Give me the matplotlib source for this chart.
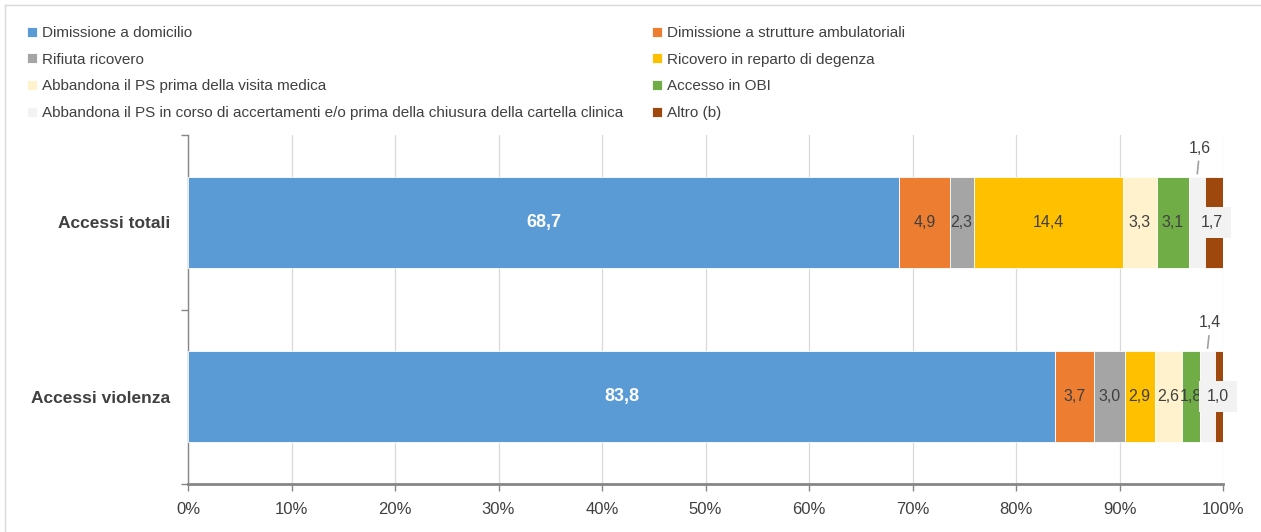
import matplotlib
matplotlib.use('Agg')
import matplotlib.pyplot as plt
from matplotlib.lines import Line2D
import numpy as np

plt.rcParams['font.family'] = ['Liberation Sans Narrow', 'Liberation Sans', 'DejaVu Sans']

categories = ['Accessi totali', 'Accessi violenza']
series = ['Dimissione a domicilio', 'Dimissione a strutture ambulatoriali',
          'Rifiuta ricovero', 'Ricovero in reparto di degenza',
          'Abbandona il PS prima della visita medica', 'Accesso in OBI',
          'Abbandona il PS in corso di accertamenti e/o prima della chiusura della cartella clinica',
          'Altro (b)']
totali = [68.7, 4.9, 2.3, 14.4, 3.3, 3.1, 1.6, 1.7]
violenza = [83.8, 3.7, 3.0, 2.9, 2.6, 1.8, 1.4, 1.0]
colors = ['#5B9BD5', '#ED7D31', '#A5A5A5', '#FFC000',
          '#FFF2CC', '#70AD47', '#F2F2F2', '#9E480E']

values = np.array([totali, violenza])
txt = '#404040'

fig = plt.figure(figsize=(12.61, 5.32), dpi=100)
ax = fig.add_axes([188 / 1261, 1 - 484 / 532, 1035 / 1261, 349 / 532])

ypos = np.arange(len(categories))
left = np.zeros(len(categories))
handles = []
for i, name in enumerate(series):
    b = ax.barh(ypos, values[:, i], left=left, height=0.52, color=colors[i],
                edgecolor='white', linewidth=0.6, label=name, zorder=3)
    handles.append(b)
    for j in range(len(categories)):
        v = values[j, i]
        xc = left[j] + v / 2
        lab = f'{v:.1f}'.replace('.', ',')
        if i == 0:
            ax.text(xc, ypos[j], lab, ha='center', va='center', color='white',
                    fontsize=13, fontweight='bold', zorder=5)
        elif i == 6:
            ax.annotate(lab, xy=(xc, ypos[j] - 0.27), xytext=(2, 14),
                        textcoords='offset points', ha='center', va='bottom',
                        color=txt, fontsize=11.5,
                        arrowprops=dict(arrowstyle='-', color='#A0A0A0', lw=1.2,
                                        shrinkA=2, shrinkB=1), zorder=5)
        elif i == 7:
            ax.text(xc - 0.2, ypos[j], lab, ha='center', va='center', color=txt,
                    fontsize=11.5, zorder=5,
                    bbox=dict(boxstyle='square,pad=0.5', fc='#F2F2F2', ec='none'))
        else:
            ax.text(xc, ypos[j], lab, ha='center', va='center', color=txt,
                    fontsize=11.5, zorder=5)
    left += values[:, i]

ax.set_xlim(0, 100)
ax.set_ylim(1.5, -0.5)
ax.set_xticks(np.arange(0, 101, 10))
ax.set_xticklabels([f'{t}%' for t in range(0, 101, 10)], fontsize=12, color=txt)
ax.grid(axis='x', color='#D9D9D9', linewidth=0.9, zorder=0)
ax.set_yticks(ypos)
ax.set_yticklabels(categories, fontsize=12.5, fontweight='bold', color=txt)
ax.tick_params(axis='y', which='major', length=0, pad=13)
ax.set_yticks([-0.5, 0.5, 1.5], minor=True)
ax.tick_params(axis='y', which='minor', length=5, color='#868686', width=1)
ax.tick_params(axis='x', length=5, color='#868686', width=1, pad=8)
for s in ['top', 'right']:
    ax.spines[s].set_visible(False)
ax.spines['left'].set_color('#868686')
ax.spines['bottom'].set_color('#868686')
ax.spines['bottom'].set_linewidth(2)
ax.spines['left'].set_linewidth(1)

leg_kw = dict(frameon=False, fontsize=11, handlelength=0.65, handleheight=0.65,
              handletextpad=0.3, labelspacing=0.83, labelcolor=txt,
              borderaxespad=0, borderpad=0)
fig.legend(handles[0::2], series[0::2], loc='upper left',
           bbox_to_anchor=(27 / 1261, 1 - 26 / 532), **leg_kw)
fig.legend(handles[1::2], series[1::2], loc='upper left',
           bbox_to_anchor=(652 / 1261, 1 - 26 / 532), **leg_kw)

# chart frame (left and top edges)
fig.add_artist(Line2D([5 / 1261, 5 / 1261], [0, 1 - 5 / 532], color='#D9D9D9',
                      lw=1, transform=fig.transFigure))
fig.add_artist(Line2D([5 / 1261, 1], [1 - 5 / 532, 1 - 5 / 532], color='#D9D9D9',
                      lw=1, transform=fig.transFigure))

fig.savefig('out.png', dpi=100)
